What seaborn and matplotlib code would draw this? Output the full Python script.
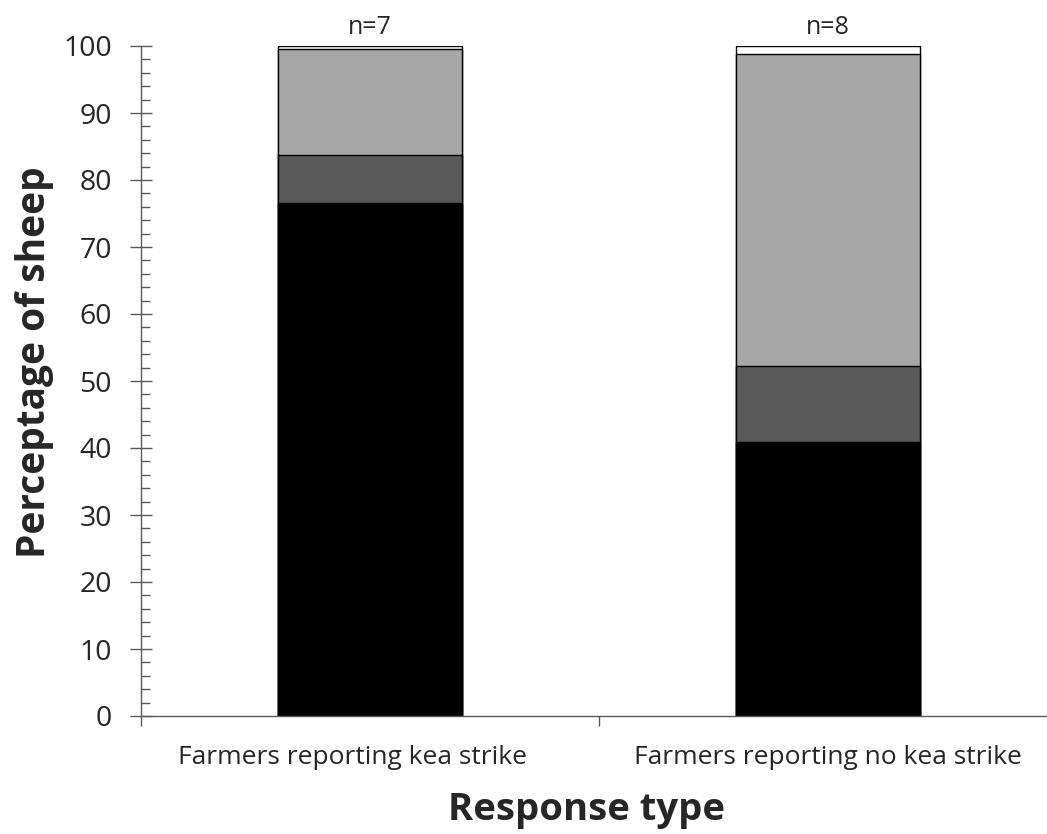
import matplotlib.pyplot as plt
import matplotlib.transforms as mtransforms
import numpy as np
import pandas as pd
import seaborn as sns
from matplotlib.ticker import MultipleLocator, FixedLocator

groups = ["Farmers reporting kea strike", "Farmers reporting no kea strike"]
n_labels = ["n=7", "n=8"]

# stacked segments, bottom to top (percent of sheep)
seg_black = [76.5, 40.9]
seg_dark = [7.2, 11.3]
seg_light = [15.8, 46.6]
seg_white = [0.5, 1.2]

segments = [seg_black, seg_dark, seg_light, seg_white]
colors = ["#000000", "#595959", "#a6a6a6", "#ffffff"]

sns.set_style("ticks")
plt.rcParams["font.family"] = ["Open Sans", "DejaVu Sans"]

fig = plt.figure(figsize=(10.47, 8.34), dpi=100)
ax = fig.add_axes([141 / 1047, 1 - 716 / 834, 916 / 1047, 670 / 834])

cum = np.cumsum(np.array(segments), axis=0)
# draw from the top layer down so lower segments sit on top
for i in range(len(segments) - 1, -1, -1):
    df = pd.DataFrame({"Response type": groups, "Percent": cum[i]})
    sns.barplot(df, x="Response type", y="Percent", color=colors[i], saturation=1,
                edgecolor="black", linewidth=1, width=0.4, errorbar=None, ax=ax)

for i, lab in enumerate(n_labels):
    ax.text(i, 100.9, lab, ha="center", va="bottom", fontsize=18, clip_on=False)

ax.set_xlim(-0.5, 1.5)
ax.set_ylim(0, 100)
ax.yaxis.set_major_locator(MultipleLocator(10))
ax.yaxis.set_minor_locator(MultipleLocator(2))
ax.xaxis.set_minor_locator(FixedLocator([-0.5, 0.5, 1.5]))

axis_col = "#5a5a5a"
for s in ["top", "right"]:
    ax.spines[s].set_visible(False)
for s in ["left", "bottom"]:
    ax.spines[s].set_color(axis_col)
    ax.spines[s].set_linewidth(1)

ax.tick_params(axis="y", which="major", direction="inout", length=16, width=1,
               color=axis_col, labelsize=20.5, pad=13)
ax.tick_params(axis="y", which="minor", direction="in", length=6.5, width=1, color=axis_col)
ax.tick_params(axis="x", which="major", length=0, labelsize=19, pad=21)
ax.tick_params(axis="x", which="minor", direction="out", length=7, width=1, color=axis_col)

# first category label sits a little left of its bar in the original
first = ax.get_xticklabels()[0]
first.set_transform(first.get_transform() + mtransforms.ScaledTranslation(-0.18, 0, fig.dpi_scale_trans))

ax.set_xlabel("Response type", fontsize=27.5, fontweight="bold")
ax.set_ylabel("Perceptage of sheep", fontsize=28, fontweight="bold")
# label centres as placed in the original
ax.xaxis.set_label_coords((587 - 141) / 916, -(810 - 716) / 670)
ax.yaxis.set_label_coords(-(141 - 35) / 916, (716 - 362) / 670)
ax.xaxis.label.set_va("center")
ax.yaxis.label.set_va("center")

fig.savefig("out.png", dpi=100)
